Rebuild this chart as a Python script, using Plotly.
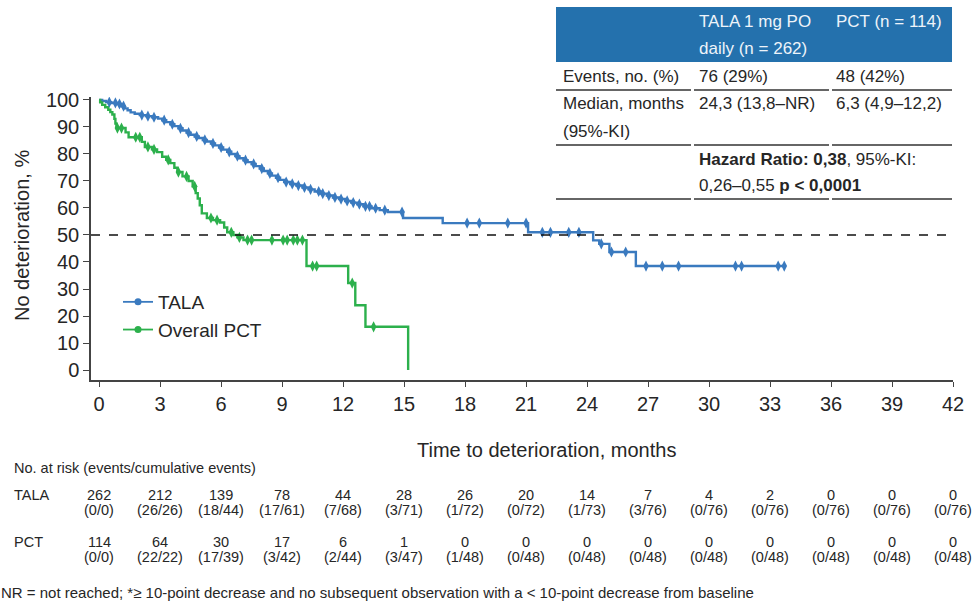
import numpy as np
import plotly.graph_objects as go

# ---------------- data ----------------
tala_event_t = [0.15, 0.35, 0.6, 0.9, 1.1, 1.25, 1.4, 1.55, 1.75, 2.0, 2.3, 2.6, 2.9, 3.1, 3.3, 3.5, 3.7,
                3.9, 4.1, 4.3, 4.5, 4.7, 4.9, 5.1, 5.3, 5.5, 5.7, 5.9, 6.1, 6.3, 6.5, 6.7, 6.9, 7.1, 7.3,
                7.5, 7.7, 7.9, 8.1, 8.3, 8.5, 8.7, 8.9, 9.1, 9.4, 9.7, 10.0, 10.3, 10.6, 10.9, 11.2, 11.5,
                11.8, 12.1, 12.4, 12.7, 13.0, 13.4, 13.8, 14.2, 14.95, 16.9, 21.1, 24.3, 24.6, 25.1, 26.4]
tala_event_s = [99.6, 99.2, 98.9, 98.5, 97.7, 96.9, 96.2, 95.4, 94.9, 94.4, 94.0, 93.6, 93.1, 92.5, 91.8,
                91.0, 90.3, 89.5, 88.7, 87.9, 87.1, 86.5, 85.9, 85.2, 84.6, 83.9, 83.2, 82.4, 81.6, 80.8,
                80.0, 79.2, 78.4, 77.7, 77.0, 76.3, 75.5, 74.6, 73.7, 72.8, 72.0, 71.2, 70.4, 69.6, 68.9,
                68.3, 67.6, 66.9, 66.1, 65.3, 64.6, 63.9, 63.3, 62.6, 62.0, 61.4, 60.6, 59.9, 59.2, 58.5,
                56.3, 54.4, 51.0, 48.0, 46.7, 43.7, 38.5]
tala_end = 33.7
tala_censor_t = [0.5, 0.8, 1.0, 1.2, 2.1, 2.4, 2.7, 3.2, 3.6, 4.0, 4.4, 4.8, 5.2, 5.6, 6.0, 6.4, 6.8, 7.2,
                 7.6, 8.0, 8.4, 8.8, 9.2, 9.5, 9.8, 10.1, 10.4, 10.8, 11.0, 11.3, 11.6, 11.9, 12.2, 12.5,
                 12.8, 13.1, 13.3, 13.6, 14.05, 14.9, 18.1, 18.7, 20.1, 21.0, 21.8, 22.2, 23.1, 23.6, 24.7,
                 25.2, 25.9, 26.9, 27.7, 28.5, 31.3, 31.6, 33.4, 33.7]

pct_event_t = [0.05, 0.15, 0.3, 0.45, 0.55, 0.65, 0.75, 0.8, 0.85, 1.3, 1.45, 2.1, 2.25, 2.6, 2.85, 3.1,
               3.3, 3.5, 3.7, 3.85, 4.1, 4.4, 4.6, 4.75, 4.85, 4.95, 5.05, 5.3, 5.6, 5.95, 6.15, 6.3, 6.6,
               6.8, 7.1, 10.2, 12.25, 12.6, 13.1, 15.2]
pct_event_s = [99.1, 98.2, 97.3, 96.4, 95.5, 94.6, 93.0, 91.3, 89.6, 88.0, 86.2, 84.5, 82.6, 81.7, 80.7,
               79.0, 77.8, 76.6, 74.9, 73.3, 71.7, 70.0, 68.0, 65.5, 63.5, 61.0, 58.0, 56.3, 55.5, 54.6,
               52.8, 51.0, 50.0, 49.1, 48.1, 38.5, 32.2, 24.0, 16.0, 0.0]
pct_censor_t = [0.9, 1.1, 1.8, 2.0, 2.4, 2.7, 3.4, 3.9, 4.3, 4.7, 5.5, 5.8, 6.5, 6.9, 7.3, 7.5, 8.5, 9.05,
                9.25, 9.55, 9.75, 10.0, 10.5, 10.7, 12.45, 13.5]

risk_months = [0, 3, 6, 9, 12, 15, 18, 21, 24, 27, 30, 33, 36, 39, 42]
tala_at_risk = [262, 212, 139, 78, 44, 28, 26, 20, 14, 7, 4, 2, 0, 0, 0]
tala_events = ["0/0", "26/26", "18/44", "17/61", "7/68", "3/71", "1/72", "0/72", "1/73", "3/76",
               "0/76", "0/76", "0/76", "0/76", "0/76"]
pct_at_risk = [114, 64, 30, 17, 6, 1, 0, 0, 0, 0, 0, 0, 0, 0, 0]
pct_events = ["0/0", "22/22", "17/39", "3/42", "2/44", "3/47", "1/48", "0/48", "0/48", "0/48",
              "0/48", "0/48", "0/48", "0/48", "0/48"]

x_ticks = list(range(0, 43, 3))
y_ticks = list(range(0, 101, 10))

BLUE = "#3a7abf"
GREEN = "#2cb04c"
HEADER = "#2471ad"
TXT = "#262626"
FONT = "Liberation Sans, Arial, sans-serif"


def surv_at(times, survs, t):
    idx = np.searchsorted(np.array(times), t, side="right") - 1
    return 100.0 if idx < 0 else survs[idx]


fig = go.Figure()

# step curves
fig.add_trace(go.Scatter(x=[0] + tala_event_t + [tala_end],
                         y=[100] + tala_event_s + [tala_event_s[-1]],
                         mode="lines", line=dict(color=BLUE, width=2.4, shape="hv"),
                         showlegend=False, hoverinfo="skip"))
fig.add_trace(go.Scatter(x=[0] + pct_event_t, y=[100] + pct_event_s,
                         mode="lines", line=dict(color=GREEN, width=2.4, shape="hv"),
                         showlegend=False, hoverinfo="skip"))
# censor marks
fig.add_trace(go.Scatter(x=tala_censor_t,
                         y=[surv_at(tala_event_t, tala_event_s, t) for t in tala_censor_t],
                         mode="markers", marker=dict(symbol="diamond-tall", size=8, color=BLUE),
                         showlegend=False, hoverinfo="skip"))
fig.add_trace(go.Scatter(x=pct_censor_t,
                         y=[surv_at(pct_event_t, pct_event_s, t) for t in pct_censor_t],
                         mode="markers", marker=dict(symbol="diamond-tall", size=8, color=GREEN),
                         showlegend=False, hoverinfo="skip"))
# legend entries
fig.add_trace(go.Scatter(x=[None], y=[None], mode="lines+markers", name="TALA",
                         line=dict(color=BLUE, width=1.8), marker=dict(symbol="circle", size=7, color=BLUE)))
fig.add_trace(go.Scatter(x=[None], y=[None], mode="lines+markers", name="Overall PCT",
                         line=dict(color=GREEN, width=1.8), marker=dict(symbol="circle", size=7, color=GREEN)))

# geometry helpers (plot area in pixels)
L, R, T, B = 91, 25, 97, 225
W = 978 - L - R
H = 605 - T - B


def xp(px):
    return (px - L) / W


def yp(py):
    return (605 - B - py) / H


shapes = []
# 50% dashed reference line
shapes.append(dict(type="line", xref="x", yref="y", x0=-0.4, x1=42, y0=50, y1=50,
                   line=dict(color="#111", width=1.3, dash="dash")))
# table header background
shapes.append(dict(type="rect", xref="paper", yref="paper", x0=xp(556), x1=xp(952), y0=yp(62), y1=yp(7),
                   fillcolor=HEADER, line=dict(width=0), layer="above"))
# table white background for body
shapes.append(dict(type="rect", xref="paper", yref="paper", x0=xp(556), x1=xp(952), y0=yp(200), y1=yp(62),
                   fillcolor="white", line=dict(width=0), layer="below"))
for ly in (90, 145, 199):
    for a, b in ((556, 691), (694, 829), (832, 952)):
        shapes.append(dict(type="line", xref="paper", yref="paper", x0=xp(a), x1=xp(b), y0=yp(ly), y1=yp(ly),
                           line=dict(color="#333", width=1.5), layer="above"))

ann = []


def txt(px, py, s, size=17, color=TXT, xanchor="left", angle=0):
    ann.append(dict(xref="paper", yref="paper", x=xp(px), y=yp(py), text=s, showarrow=False,
                    xanchor=xanchor, yanchor="middle", textangle=angle,
                    font=dict(size=size, color=color, family=FONT)))


# table text
hc = "#eef4fa"
txt(697, 22, "TALA 1 mg PO", color=hc)
txt(697, 48, "daily (n = 262)", color=hc)
txt(834, 22, "PCT (n = 114)", color=hc)
txt(561, 77, "Events, no. (%)")
txt(697, 77, "76 (29%)")
txt(834, 77, "48 (42%)")
txt(561, 104, "Median, months")
txt(561, 131, "(95%-KI)")
txt(697, 104, "24,3 (13,8–NR)")
txt(834, 104, "6,3 (4,9–12,2)")
txt(697, 159, "<b>Hazard Ratio: 0,38</b>, 95%-KI:")
txt(697, 185, "0,26–0,55 <b>p &lt; 0,0001</b>")

# axis titles
txt(22, 236, "No deterioration, %", size=20, xanchor="center", angle=-90)
txt(546, 450, "Time to deterioration, months", size=20, xanchor="center")

# at-risk table
RS = 14.5
txt(12, 468, "No. at risk (events/cumulative events)", size=RS)
txt(12, 495, "TALA", size=RS)
txt(12, 542, "PCT", size=RS)
for m, n, e in zip(risk_months, tala_at_risk, tala_events):
    ann.append(dict(xref="x", yref="paper", x=m, y=yp(495), text=str(n), showarrow=False,
                    xanchor="center", yanchor="middle", font=dict(size=RS, color=TXT, family=FONT)))
    ann.append(dict(xref="x", yref="paper", x=m, y=yp(510), text="(" + e + ")", showarrow=False,
                    xanchor="center", yanchor="middle", font=dict(size=RS, color=TXT, family=FONT)))
for m, n, e in zip(risk_months, pct_at_risk, pct_events):
    ann.append(dict(xref="x", yref="paper", x=m, y=yp(542), text=str(n), showarrow=False,
                    xanchor="center", yanchor="middle", font=dict(size=RS, color=TXT, family=FONT)))
    ann.append(dict(xref="x", yref="paper", x=m, y=yp(557), text="(" + e + ")", showarrow=False,
                    xanchor="center", yanchor="middle", font=dict(size=RS, color=TXT, family=FONT)))

# footnote
txt(-1, 592, "NR = not reached; *≥ 10-point decrease and no subsequent observation with a &lt; 10-point "
             "decrease from baseline", size=15)

fig.update_layout(
    width=978, height=605,
    margin=dict(l=L, r=R, t=T, b=B),
    paper_bgcolor="white", plot_bgcolor="white",
    font=dict(family=FONT, color=TXT),
    shapes=shapes, annotations=ann,
    legend=dict(x=xp(118), y=yp(283), xanchor="left", yanchor="top",
                font=dict(size=19, color=TXT, family=FONT), bgcolor="rgba(0,0,0,0)",
                itemwidth=30, tracegroupgap=0),
    xaxis=dict(range=[-0.4, 42], tickvals=x_ticks, ticks="outside", ticklen=5, tickwidth=1.3,
               tickcolor="#444", showline=True, linecolor="#444", linewidth=1.5, showgrid=False,
               zeroline=False, tickfont=dict(size=20, color=TXT, family=FONT)),
    yaxis=dict(range=[-3.7, 101.1], tickvals=y_ticks, ticks="outside", ticklen=6, tickwidth=1.3,
               tickcolor="#444", showline=True, linecolor="#444", linewidth=1.5, showgrid=False,
               zeroline=False, tickfont=dict(size=20, color=TXT, family=FONT)),
)

fig.write_html("out.html", config={"displayModeBar": False},
               post_script="document.body.style.margin='0';document.body.style.padding='0';"
                           "document.documentElement.style.overflow='hidden';")
